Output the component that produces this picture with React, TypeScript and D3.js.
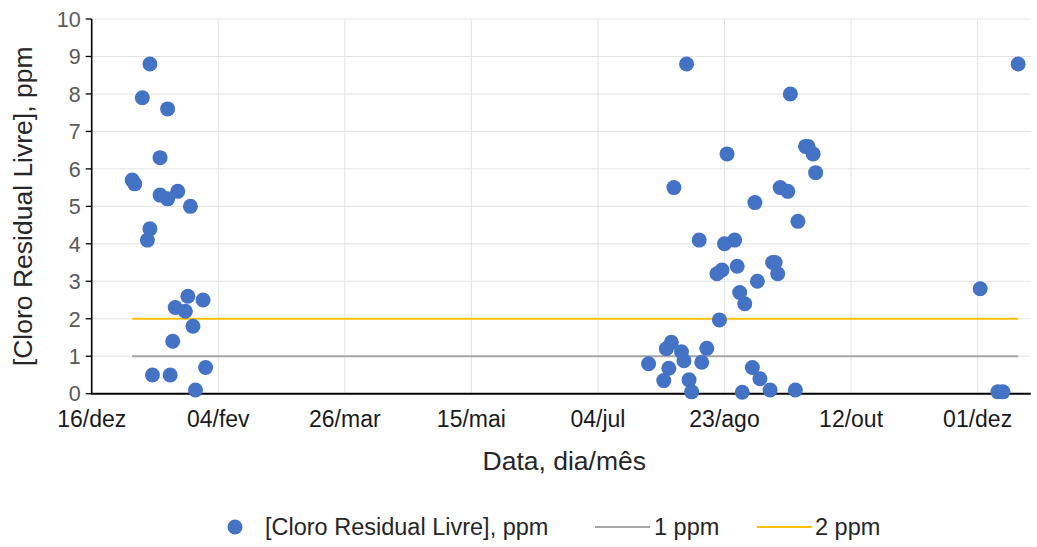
import React from "react";
import * as d3 from "d3";

// Free residual chlorine readings (date, ppm)
const SAMPLE_DATES = [
  "2021-01-01", "2021-01-02", "2021-01-05", "2021-01-07", "2021-01-08", "2021-01-08",
  "2021-01-09", "2021-01-12", "2021-01-12", "2021-01-15", "2021-01-15", "2021-01-16",
  "2021-01-17", "2021-01-18", "2021-01-19", "2021-01-22", "2021-01-23", "2021-01-24",
  "2021-01-25", "2021-01-26", "2021-01-29", "2021-01-30",
  "2021-07-24", "2021-07-30", "2021-07-31", "2021-08-01", "2021-08-02", "2021-08-03",
  "2021-08-06", "2021-08-07", "2021-08-08", "2021-08-09", "2021-08-10", "2021-08-13",
  "2021-08-14", "2021-08-16", "2021-08-20", "2021-08-21", "2021-08-22", "2021-08-23",
  "2021-08-24", "2021-08-27", "2021-08-28", "2021-08-29", "2021-08-30", "2021-08-31",
  "2021-09-03", "2021-09-04", "2021-09-05", "2021-09-06", "2021-09-10", "2021-09-11",
  "2021-09-12", "2021-09-13", "2021-09-14", "2021-09-17", "2021-09-18", "2021-09-20",
  "2021-09-21", "2021-09-24", "2021-09-25", "2021-09-27", "2021-09-28",
  "2021-12-02", "2021-12-09", "2021-12-11", "2021-12-17",
];
const SAMPLE_PPM = [
  5.7, 5.6, 7.9, 4.1, 8.8, 4.4,
  0.5, 5.3, 6.3, 7.6, 5.2, 0.5,
  1.4, 2.3, 5.4, 2.2, 2.6, 5.0,
  1.8, 0.1, 2.5, 0.7,
  0.8, 0.35, 1.2, 0.68, 1.37, 5.5,
  1.12, 0.88, 8.8, 0.37, 0.05, 4.1,
  0.84, 1.21, 3.2, 1.97, 3.3, 4.0,
  6.4, 4.1, 3.4, 2.7, 0.04, 2.4,
  0.7, 5.1, 3.0, 0.4, 0.1, 3.5,
  3.5, 3.2, 5.5, 5.4, 8.0, 0.1,
  4.6, 6.6, 6.6, 6.4, 5.9,
  2.8, 0.05, 0.05, 8.8,
];

// Reference limits drawn across the sampling period
const LIMIT_DATES = ["2021-01-01", "2021-12-17"];
const LIMIT_1PPM = [1, 1];
const LIMIT_2PPM = [2, 2];

const X_DOMAIN = ["2020-12-16", "2021-12-22"];
const X_TICKS = [
  "2020-12-16", "2021-02-04", "2021-03-26", "2021-05-15",
  "2021-07-04", "2021-08-23", "2021-10-12", "2021-12-01",
];
const Y_TICKS = [0, 1, 2, 3, 4, 5, 6, 7, 8, 9, 10];

const LEGEND_LABELS = ["[Cloro Residual Livre], ppm", "1 ppm", "2 ppm"];
const Y_TITLE = "[Cloro Residual Livre], ppm";
const X_TITLE = "Data, dia/mês";

const parse = d3.timeParse("%Y-%m-%d");
const ptBR = d3.timeFormatLocale({
  dateTime: "%A, %e de %B de %Y. %X",
  date: "%d/%m/%Y",
  time: "%H:%M:%S",
  periods: ["AM", "PM"],
  days: ["domingo", "segunda", "terça", "quarta", "quinta", "sexta", "sábado"],
  shortDays: ["dom", "seg", "ter", "qua", "qui", "sex", "sáb"],
  months: ["janeiro", "fevereiro", "março", "abril", "maio", "junho", "julho",
    "agosto", "setembro", "outubro", "novembro", "dezembro"],
  shortMonths: ["jan", "fev", "mar", "abr", "mai", "jun", "jul", "ago", "set", "out", "nov", "dez"],
});
const fmtTick = ptBR.format("%d/%b");

const W = 1037;
const H = 547;
const M = { left: 91.7, right: 1030.8, top: 19, bottom: 393.7 };
const FONT = "'Liberation Sans', Arial, sans-serif";
const BLUE = "#4472C4";
const GREY = "#A5A5A5";
const GOLD = "#FFC000";

export default function App() {
  const x = d3.scaleTime()
    .domain(X_DOMAIN.map((d) => parse(d) as Date))
    .range([M.left, M.right]);
  const y = d3.scaleLinear().domain([0, 10]).range([M.bottom, M.top]);

  const points = SAMPLE_DATES.map((d, i) => ({ date: parse(d) as Date, v: SAMPLE_PPM[i] }));
  const line = d3.line<{ date: Date; v: number }>()
    .x((d) => x(d.date))
    .y((d) => y(d.v));
  const lim1 = LIMIT_DATES.map((d, i) => ({ date: parse(d) as Date, v: LIMIT_1PPM[i] }));
  const lim2 = LIMIT_DATES.map((d, i) => ({ date: parse(d) as Date, v: LIMIT_2PPM[i] }));
  const xTicks = X_TICKS.map((d) => parse(d) as Date);

  const midX = (M.left + M.right) / 2;
  const midY = (M.top + M.bottom) / 2;

  return (
    <svg width={W} height={H} style={{ position: "absolute", left: 0, top: 0, background: "#fff" }}
      fontFamily={FONT}>
      {/* grid */}
      <g stroke="#e3e3e3" strokeWidth={1}>
        {Y_TICKS.filter((t) => t > 0).map((t) => (
          <line key={"gy" + t} x1={M.left} x2={M.right} y1={y(t)} y2={y(t)} />
        ))}
        {xTicks.slice(1).map((t, i) => (
          <line key={"gx" + i} x1={x(t)} x2={x(t)} y1={M.top} y2={M.bottom} />
        ))}
      </g>

      {/* limit lines */}
      <path d={line(lim1) || ""} fill="none" stroke={GREY} strokeWidth={2.2} />
      <path d={line(lim2) || ""} fill="none" stroke={GOLD} strokeWidth={2.2} />

      {/* axes */}
      <line x1={M.left} x2={M.left} y1={M.top} y2={M.bottom} stroke="#000" strokeWidth={1.6} />
      <line x1={M.left - 1} x2={M.right} y1={M.bottom} y2={M.bottom} stroke="#000" strokeWidth={2} />
      {Y_TICKS.map((t) => (
        <g key={"yt" + t}>
          <line x1={M.left - 6} x2={M.left} y1={y(t)} y2={y(t)} stroke="#000" strokeWidth={1.3} />
          <text x={M.left - 11} y={y(t)} dy="0.36em" textAnchor="end" fontSize={21.5} fill="#595959">
            {t}
          </text>
        </g>
      ))}
      {xTicks.map((t, i) => (
        <text key={"xt" + i} x={x(t)} y={427} textAnchor="middle" fontSize={23} fill="#1a1a1a">
          {fmtTick(t)}
        </text>
      ))}

      {/* titles */}
      <text x={midX + 3} y={470} textAnchor="middle" fontSize={26.5} fill="#262626">{X_TITLE}</text>
      <text transform={`translate(32,${midY}) rotate(-90)`} textAnchor="middle" fontSize={26.5} fill="#262626">
        {Y_TITLE}
      </text>

      {/* samples */}
      <g fill={BLUE}>
        {points.map((p, i) => (
          <circle key={i} cx={x(p.date)} cy={y(p.v)} r={7.5} />
        ))}
      </g>

      {/* legend */}
      <g fontSize={23.5} fill="#262626">
        <circle cx={235} cy={527} r={7.5} fill={BLUE} />
        <text x={265} y={535}>{LEGEND_LABELS[0]}</text>
        <line x1={595} x2={650} y1={527} y2={527} stroke={GREY} strokeWidth={2.2} />
        <text x={654} y={535}>{LEGEND_LABELS[1]}</text>
        <line x1={757} x2={812} y1={527} y2={527} stroke={GOLD} strokeWidth={2.2} />
        <text x={815} y={535}>{LEGEND_LABELS[2]}</text>
      </g>
    </svg>
  );
}
